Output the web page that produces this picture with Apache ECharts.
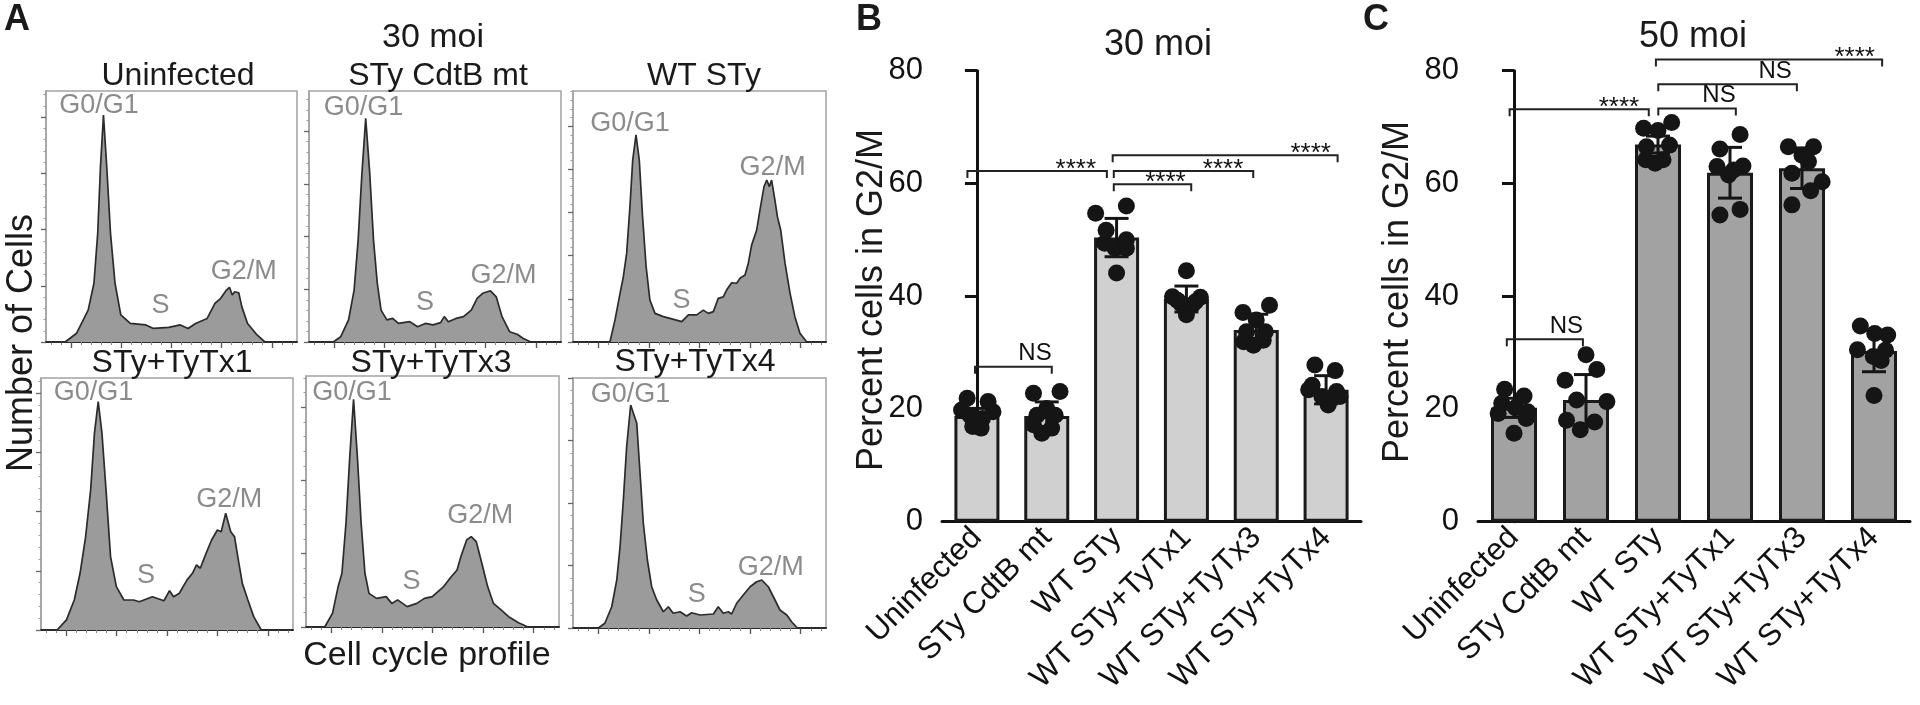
<!DOCTYPE html>
<html><head><meta charset="utf-8">
<script src="https://cdn.jsdelivr.net/npm/echarts@6/dist/echarts.min.js"></script>
<style>html,body{margin:0;padding:0;background:#fff}#c{width:1920px;height:705px}</style>
</head><body><div id="c"></div>
<script>
const FONT = '"Liberation Sans", Arial, Helvetica, sans-serif';

// ---------- Panel A: cell-cycle histograms (x: channel 0-100, y: % of frame height) ----------
const histUninfected = [[0,0],[7.6,0],[12.2,3.5],[16.8,12.7],[19.1,23.4],[20.6,43.3],[21.7,69.8],[22.9,90.4],[24.2,69.8],[25.7,43.3],[27.5,23.4],[29.8,10.8],[33.6,7.4],[39.8,6.8],[42.8,5.4],[48.9,5.8],[53.5,6.8],[56.6,5.4],[59.6,7.4],[64.2,9.4],[67.3,15.4],[69.6,17.4],[71.9,20.7],[73.1,21.8],[74.2,18.7],[75.2,20.0],[76.8,19.6],[78.0,14.1],[80.3,7.4],[84.1,2.8],[87.2,0],[100,0]];
const histCdtB = [[0,0],[9.6,0],[12.6,2.1],[15.7,8.8],[17.9,20.7],[19.5,40.6],[21.0,67.2],[22.5,89.1],[24.1,67.2],[25.6,40.6],[27.1,23.4],[28.6,12.7],[30.9,8.8],[33.2,9.4],[35.5,7.4],[40.0,8.1],[43.1,6.1],[46.1,7.4],[49.2,6.8],[52.2,7.7],[53.7,10.1],[55.3,8.1],[58.3,9.4],[61.3,10.1],[64.4,12.7],[66.7,17.4],[68.9,19.4],[72.0,20.4],[74.3,18.0],[76.6,10.1],[79.6,4.1],[82.6,3.1],[84.9,1.5],[88.0,0],[100,0]];
const histWT = [[0,0],[14.6,0],[16.6,8.8],[18.6,19.4],[19.9,26.0],[21.2,35.3],[22.5,53.9],[23.6,72.5],[24.9,82.5],[26.2,72.5],[27.5,49.9],[28.9,30.0],[30.4,16.7],[32.4,11.4],[35.7,10.1],[38.3,9.4],[43.0,8.1],[45.6,10.8],[48.9,10.8],[51.5,12.7],[53.5,11.4],[55.5,12.1],[57.4,17.4],[59.4,18.0],[60.7,20.7],[62.7,23.6],[64.7,23.4],[66.0,25.4],[68.0,26.7],[69.3,31.4],[70.6,38.6],[72.6,44.6],[73.9,52.6],[75.5,61.9],[76.6,64.5],[77.6,61.9],[78.5,64.5],[79.8,56.6],[80.8,49.9],[82.1,44.6],[83.8,31.4],[85.8,19.4],[87.7,10.1],[89.7,3.5],[92.4,0],[100,0]];
const histTx1 = [[0,0],[6.4,0],[10.1,4.0],[13.2,11.9],[15.5,22.5],[17.7,37.0],[19.7,55.6],[21.2,78.0],[22.7,90.6],[24.2,78.0],[25.8,55.6],[27.6,29.1],[29.9,17.2],[32.9,11.9],[36.7,11.9],[39.0,11.2],[44.2,13.2],[48.8,11.6],[51.0,15.6],[52.6,13.2],[54.9,14.6],[57.9,19.8],[60.1,22.5],[61.7,25.8],[63.2,24.5],[65.5,30.4],[67.7,35.7],[70.0,39.7],[71.5,39.0],[73.3,46.3],[75.3,39.0],[76.8,37.0],[78.3,27.8],[79.9,18.5],[82.1,11.9],[84.4,5.3],[87.4,0],[100,0]];
const histTx3 = [[0,0],[7.4,0],[10.5,5.5],[12.7,16.1],[14.2,21.4],[15.8,41.3],[17.3,67.9],[18.8,90.7],[20.3,67.9],[21.8,41.3],[23.3,21.4],[24.9,13.4],[27.9,11.4],[31.7,12.1],[33.9,9.4],[36.2,10.8],[40.0,8.1],[43.8,9.4],[46.8,11.4],[49.9,12.1],[54.4,16.1],[57.4,20.0],[59.7,22.7],[61.2,28.0],[63.5,34.7],[65.3,36.0],[67.3,34.0],[69.5,25.4],[71.8,16.1],[74.1,9.4],[77.1,6.8],[80.1,4.1],[84.0,1.7],[87.7,0],[100,0]];
const histTx4 = [[0,0],[10.0,0],[12.6,1.9],[15.3,8.5],[17.3,19.2],[18.6,32.5],[19.9,51.2],[21.2,72.5],[22.8,89.2],[24.1,85.2],[25.2,81.9],[26.5,61.9],[27.8,41.9],[29.4,27.2],[31.1,16.5],[33.1,11.2],[35.7,6.5],[37.7,8.5],[39.6,5.9],[42.3,6.5],[44.9,4.8],[46.9,6.1],[50.2,5.2],[55.5,5.6],[57.4,8.5],[59.4,5.9],[61.4,6.5],[62.7,5.6],[64.7,9.9],[67.3,13.2],[70.0,16.5],[72.6,18.5],[74.6,19.2],[77.2,16.5],[79.2,12.5],[81.8,7.2],[84.5,5.2],[86.4,2.5],[88.7,0],[100,0]];

// phase annotations [x, y, text] in each histogram's own units
const lblUninfected = [[21.1,94.1,'G0/G1'],[45.6,14.7,'S'],[78.8,28.0,'G2/M']];
const lblCdtB       = [[21.6,93.4,'G0/G1'],[46.0,15.7,'S'],[77.2,26.4,'G2/M']];
const lblWT         = [[22.5,87.1,'G0/G1'],[42.9,16.4,'S'],[78.9,69.5,'G2/M']];
const lblTx1        = [[20.8,94.2,'G0/G1'],[41.7,21.8,'S'],[74.7,51.9,'G2/M']];
const lblTx3        = [[18.2,93.4,'G0/G1'],[41.7,18.0,'S'],[68.9,44.3,'G2/M']];
const lblTx4        = [[22.7,93.5,'G0/G1'],[48.9,13.5,'S'],[78.2,24.2,'G2/M']];

// ---------- Panels B and C: percent cells in G2/M ----------
const categories = ['Uninfected','STy CdtB mt','WT STy','WT STy+TyTx1','WT STy+TyTx3','WT STy+TyTx4'];

const meanB = [18.75, 18.75, 50.4, 39.5, 34.0, 23.4];
const sdB   = [1.35, 2.5, 3.4, 2.3, 2.8, 2.5];
const ptsB = [
  [21.9,21.3,19.8,19.5,18.9,18.3,16.9,16.6],
  [22.8,23.1,20.1,18.9,18.9,17.2,16.6,15.7],
  [54.7,56.0,51.7,50.0,49.4,48.5,48.5,44.1],
  [44.5,39.9,39.8,38.7,38.4,36.7,39.3,39.0],
  [37.1,38.4,35.8,33.7,33.7,31.9,31.3,32.2],
  [27.8,26.8,24.2,23.1,22.2,20.7,23.4,22.2]
];
const jitterB = [
  [-0.14,0.16,-0.22,0.23,-0.10,0.08,-0.06,0.06],
  [-0.19,0.19,0,-0.14,0.12,-0.19,0.07,-0.07],
  [-0.30,0.14,-0.15,0.14,-0.17,-0.02,0.14,0],
  [0,-0.20,0.20,-0.08,0.08,0,-0.13,0.13],
  [-0.19,0.19,0,-0.14,0.13,-0.18,-0.04,0.10],
  [-0.16,0.13,-0.20,0.15,-0.06,0.03,-0.25,0.20]
];
const bracketsB = [
  {from:-0.136, to:1.861, y:62.2,  at:1.416, text:'****'},
  {from:1.944,  to:5.165, y:65.0,  at:4.780, text:'****'},
  {from:1.960,  to:3.957, y:62.2,  at:3.524, text:'****'},
  {from:1.960,  to:3.069, y:59.85, at:2.699, text:'****'},
  {from:-0.027, to:1.072, y:27.5,  at:0.832, text:'NS'}
];

const meanC = [20.2, 21.6, 66.9, 61.9, 62.7, 30.3];
const sdC   = [1.7, 4.5, 1.5, 4.5, 3.6, 3.7];
const ptsC = [
  [23.5,22.3,21.0,19.5,19.2,18.3,20.2,15.7],
  [29.6,27.0,25.1,21.6,21.3,18.0,17.7,16.3],
  [69.8,69.4,70.8,66.5,66.8,64.2,63.6,64.2],
  [68.7,66.1,63.0,63.1,61.5,62.4,54.4,55.4],
  [66.5,66.5,65.0,63.9,61.8,60.3,58.7,56.2],
  [34.7,33.4,33.1,30.5,30.4,29.3,28.6,22.4]
];
const jitterC = [
  [-0.13,0.14,-0.17,0.19,-0.22,0.17,0.02,0],
  [0,0.15,-0.29,-0.13,0.29,-0.27,0.12,-0.08],
  [-0.20,0,0.19,-0.16,0.16,-0.17,-0.04,0.07],
  [0.14,-0.14,-0.18,0.18,-0.02,0.05,-0.14,0.14],
  [-0.19,0.16,0,0.09,-0.14,0.28,0.12,-0.14],
  [-0.19,0.01,0.19,-0.23,0.16,-0.01,0.10,0]
];
const bracketsC = [
  {from:-0.061, to:1.872, y:73.15, at:1.458, text:'****'},
  {from:2.004,  to:3.081, y:73.3,  at:2.847, text:'NS'},
  {from:2.004,  to:3.929, y:77.6,  at:3.626, text:'NS'},
  {from:1.971,  to:5.113, y:82.0,  at:4.732, text:'****'},
  {from:-0.100, to:0.957, y:32.35, at:0.728, text:'NS'}
];
const yTicksBar = [0, 20, 40, 60, 80];

// ---------- layout ----------
const histPanels = [
  {name:'Uninfected',  data:histUninfected, marks:lblUninfected, yStep:22.4, box:[46,91,297,342],   title:[178,76]},
  {name:'STy CdtB mt', data:histCdtB,       marks:lblCdtB,       yStep:21.0, box:[309,91,561,342],  title:[438,76]},
  {name:'WT STy',      data:histWT,         marks:lblWT,         yStep:17.2, box:[573,91,826,342],  title:[704,76]},
  {name:'STy+TyTx1',   data:histTx1,        marks:lblTx1,        yStep:23.5, box:[41,378,293,630],  title:[172,363]},
  {name:'STy+TyTx3',   data:histTx3,        marks:lblTx3,        yStep:29.2, box:[306,376,559,627], title:[431,363]},
  {name:'STy+TyTx4',   data:histTx4,        marks:lblTx4,        yStep:25.0, box:[573,378,826,628], title:[695,362]}
];
const xMajor = [10,30,50,70,90];
const xMinor = [];
for (let v = 2; v < 100; v += 4) if (xMajor.indexOf(v) < 0) xMinor.push(v);

const option = {animation:false, backgroundColor:'#ffffff', grid:[], xAxis:[], yAxis:[], series:[], graphic:[]};

function txt(text, x, y, size, o) {
  o = o || {};
  return {type:'text', x:x, y:y, rotation:o.rot || 0, silent:true, z:100,
    style:{text:text, x:0, y:0, fill:o.color || '#1a1a1a',
      font:(o.bold ? 'bold ' : '') + size + 'px ' + FONT,
      textAlign:o.align || 'center', align:o.align || 'center',
      textVerticalAlign:'middle', verticalAlign:'middle'}};
}

histPanels.forEach((p, i) => {
  const [L, T, R, B] = p.box;
  option.grid.push({left:L, top:T, width:R - L, height:B - T, show:true, borderColor:'#a3a3a3', borderWidth:1.5});
  const yMaj = [], yMin = [];
  for (let k = 0; k * p.yStep <= 100.5; k++) yMaj.push(+(k * p.yStep).toFixed(2));
  for (let k = 1; k * p.yStep / 5 <= 100; k++) if (k % 5) yMin.push(+(k * p.yStep / 5).toFixed(2));
  option.xAxis.push({type:'value', gridIndex:i, position:'bottom', min:0, max:100,
    axisLine:{show:true, lineStyle:{color:'#2a2a2a', width:2}},
    axisTick:{show:true, inside:false, length:6, customValues:xMajor, lineStyle:{color:'#555', width:1.3}},
    axisLabel:{show:false}, splitLine:{show:false}});
  option.xAxis.push({type:'value', gridIndex:i, position:'bottom', min:0, max:100,
    axisLine:{show:false},
    axisTick:{show:true, inside:false, length:3, customValues:xMinor, lineStyle:{color:'#888', width:1}},
    axisLabel:{show:false}, splitLine:{show:false}});
  option.yAxis.push({type:'value', gridIndex:i, position:'left', min:0, max:100,
    axisLine:{show:true, lineStyle:{color:'#a3a3a3', width:1.5}},
    axisTick:{show:true, inside:false, length:5, customValues:yMaj, lineStyle:{color:'#666', width:1.3}},
    axisLabel:{show:false}, splitLine:{show:false}});
  option.yAxis.push({type:'value', gridIndex:i, position:'left', min:0, max:100,
    axisLine:{show:false},
    axisTick:{show:true, inside:false, length:2.5, customValues:yMin, lineStyle:{color:'#999', width:1}},
    axisLabel:{show:false}, splitLine:{show:false}});
  option.series.push({type:'line', xAxisIndex:2*i, yAxisIndex:2*i, data:p.data, symbol:'none', silent:true,
    lineStyle:{color:'#2b2b2b', width:1.7}, areaStyle:{color:'#9b9b9b', opacity:1}, z:2});
  option.series.push({type:'scatter', xAxisIndex:2*i, yAxisIndex:2*i, symbolSize:0, silent:true, z:5,
    data:p.marks.map(m => ({value:[m[0], m[1]], name:m[2]})),
    label:{show:true, position:'inside', formatter:'{b}', color:'#6e6e6e', fontSize:27, fontFamily:FONT}});
  option.graphic.push(txt(p.name, p.title[0], p.title[1], 32));
});

// bar panels
function errRender(params, api) {
  const x = api.value(0);
  const top = api.coord([x, api.value(2)]), bot = api.coord([x, api.value(1)]);
  const hw = 12, st = {stroke:'#151515', lineWidth:3};
  return {type:'group', children:[
    {type:'line', shape:{x1:top[0], y1:top[1], x2:bot[0], y2:bot[1]}, style:st},
    {type:'line', shape:{x1:top[0]-hw, y1:top[1], x2:top[0]+hw, y2:top[1]}, style:st},
    {type:'line', shape:{x1:bot[0]-hw, y1:bot[1], x2:bot[0]+hw, y2:bot[1]}, style:st}
  ]};
}
function bracketRender(list) {
  return function (params, api) {
    const b = list[params.dataIndex];
    const p1 = api.coord([b.from, b.y]), p2 = api.coord([b.to, b.y]), pt = api.coord([b.at, b.y]);
    const stars = b.text.charAt(0) === '*';
    return {type:'group', children:[
      {type:'polyline', shape:{points:[[p1[0], p1[1]+7],[p1[0], p1[1]],[p2[0], p2[1]],[p2[0], p2[1]+7]]},
        style:{stroke:'#222', lineWidth:2, fill:null}},
      {type:'text', style:{text:b.text, x:pt[0], y:pt[1] + (stars ? -1.5 : -13),
        font:(stars ? 26 : 24) + 'px ' + FONT, fill:'#111',
        textAlign:'center', align:'center', textVerticalAlign:'middle', verticalAlign:'middle'}}
    ]};
  };
}

function addBarPanel(gridPos, means, sds, pts, jit, brackets, fill) {
  const g = option.grid.length;
  option.grid.push(Object.assign({show:false}, gridPos));
  const xc = option.xAxis.length, xv = xc + 1, y = option.yAxis.length;
  option.xAxis.push({type:'category', gridIndex:g, position:'bottom', data:categories,
    axisLine:{show:true, lineStyle:{color:'#111', width:3}}, axisTick:{show:false},
    axisLabel:{show:true, interval:0, rotate:45, fontSize:31, fontFamily:FONT, color:'#111', margin:11},
    splitLine:{show:false}});
  option.xAxis.push({type:'value', gridIndex:g, position:'bottom', min:-0.5, max:5.5, show:false});
  option.yAxis.push({type:'value', gridIndex:g, min:0, max:80, interval:20,
    axisLine:{show:true, lineStyle:{color:'#111', width:3}},
    axisTick:{show:true, inside:false, length:12, lineStyle:{color:'#111', width:3}},
    axisLabel:{show:true, fontSize:31, fontFamily:FONT, color:'#111', margin:19},
    splitLine:{show:false}});
  option.series.push({type:'bar', xAxisIndex:xc, yAxisIndex:y, data:means, barWidth:gridPos.bw, silent:true, z:2,
    itemStyle:{color:fill, borderColor:'#1a1a1a', borderWidth:3}});
  const dots = [];
  pts.forEach((arr, i) => arr.forEach((v, j) => dots.push([i + jit[i][j], v])));
  option.series.push({type:'scatter', xAxisIndex:xv, yAxisIndex:y, data:dots, symbol:'circle', symbolSize:17,
    silent:true, z:3, itemStyle:{color:'#151515', opacity:1}});
  option.series.push({type:'custom', xAxisIndex:xv, yAxisIndex:y, renderItem:errRender, clip:false, silent:true, z:4,
    encode:{x:0, y:[1,2]}, data:means.map((m, i) => [i, m - sds[i], m + sds[i]])});
  option.series.push({type:'custom', xAxisIndex:xv, yAxisIndex:y, renderItem:bracketRender(brackets), clip:false, silent:true, z:4,
    encode:{x:[0,1,3], y:2}, data:brackets.map(b => [b.from, b.to, b.y, b.at])});
}
addBarPanel({left:942, top:70.7, width:419, height:451, bw:45}, meanB, sdB, ptsB, jitterB, bracketsB, '#d0d0d0');
addBarPanel({left:1478, top:70.7, width:432, height:451, bw:46}, meanC, sdC, ptsC, jitterC, bracketsC, '#a2a2a2');

// free text
option.graphic.push(txt('A', 4, 20, 36, {bold:true, align:'left'}));
option.graphic.push(txt('30 moi', 433, 38, 34));
option.graphic.push(txt('Number of Cells', 22, 343, 36, {rot:Math.PI/2}));
option.graphic.push(txt('Cell cycle profile', 427, 656, 34));
option.graphic.push(txt('B', 856, 20, 36, {bold:true, align:'left'}));
option.graphic.push(txt('30 moi', 1158, 45, 36));
option.graphic.push(txt('Percent cells in G2/M', 872, 300, 36, {rot:Math.PI/2}));
option.graphic.push(txt('C', 1363, 20, 36, {bold:true, align:'left'}));
option.graphic.push(txt('50 moi', 1693, 37, 36));
option.graphic.push(txt('Percent cells in G2/M', 1398, 292, 36, {rot:Math.PI/2}));

const chart = echarts.init(document.getElementById('c'), null, {renderer:'canvas', width:1920, height:705});
chart.setOption(option);
</script></body></html>
